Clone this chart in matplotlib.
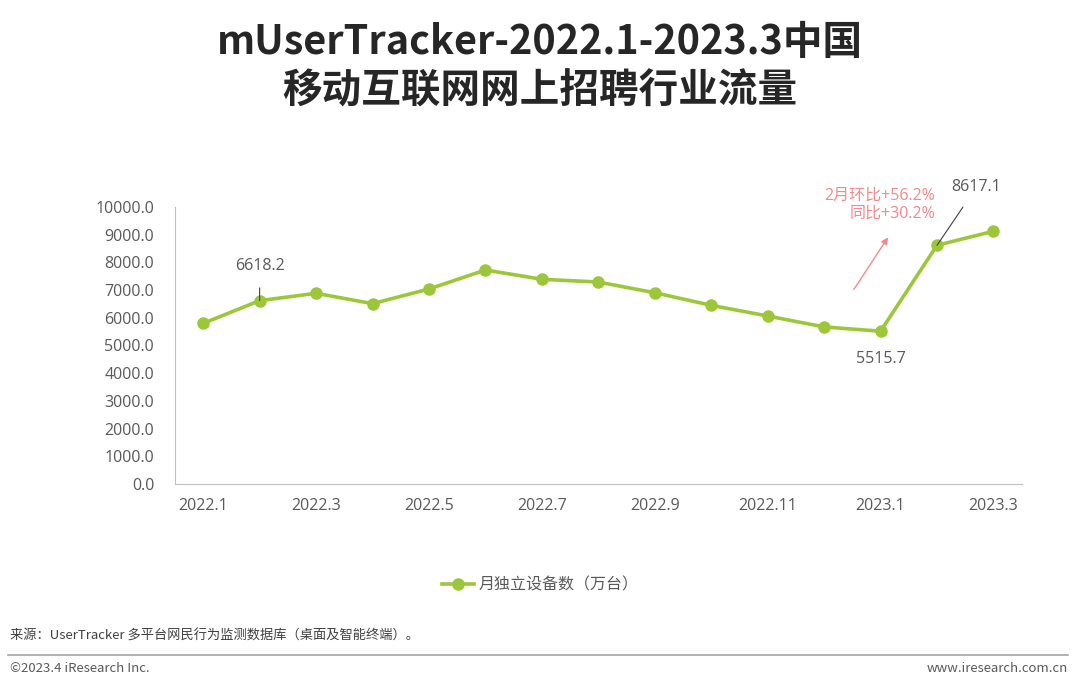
import matplotlib.pyplot as plt
import numpy as np

plt.rcParams['font.family'] = ['Open Sans', 'Noto Sans CJK SC', 'DejaVu Sans']

# data (万台)
months = ['2022.1', '2022.2', '2022.3', '2022.4', '2022.5', '2022.6', '2022.7', '2022.8',
          '2022.9', '2022.10', '2022.11', '2022.12', '2023.1', '2023.2', '2023.3']
devices = [5800, 6618.2, 6885, 6510, 7040, 7725, 7390, 7290,
           6905, 6450, 6065, 5670, 5515.7, 8617.1, 9125]
yticks = np.arange(0, 10001, 1000)

green = '#9DC73A'
grey = '#595959'
pink = '#F08A8F'
cjk = ['Noto Sans CJK SC', 'DejaVu Sans']

fig = plt.figure(figsize=(10.8, 6.9), dpi=100)
ax = fig.add_axes([0.162, 0.2986, 0.784, 0.4014])

x = np.arange(len(months))
ax.plot(x, devices, color=green, lw=2.6, marker='o', ms=8, label='月独立设备数（万台）')

ax.set_xlim(-0.5, len(months) - 0.5)
ax.set_ylim(0, 10000)
ax.set_yticks(yticks)
ax.set_yticklabels(['%.1f' % v for v in yticks], fontsize=11.5, color=grey)
ax.set_xticks(x[::2])
ax.set_xticklabels(months[::2], fontsize=11.5, color=grey)
ax.tick_params(axis='y', length=0, pad=15)
ax.tick_params(axis='x', length=0, pad=10)
for s in ['top', 'right']:
    ax.spines[s].set_visible(False)
for s in ['left', 'bottom']:
    ax.spines[s].set_color('#BFBFBF')

# value labels
ax.annotate('%.1f' % devices[1], xy=(1, devices[1]), xytext=(1, devices[1] + 1250),
            ha='center', va='center', fontsize=11.5, color=grey,
            arrowprops=dict(arrowstyle='-', color='#404040', lw=0.8, shrinkA=8, shrinkB=0))
ax.text(12, devices[12] - 1000, '%.1f' % devices[12], ha='center', va='center',
        fontsize=11.5, color=grey)
ax.annotate('%.1f' % devices[13], xy=(13, devices[13]), xytext=(13.7, devices[13] + 2100),
            ha='center', va='center', fontsize=11.5, color=grey,
            arrowprops=dict(arrowstyle='-', color='#404040', lw=0.8, shrinkA=8, shrinkB=0))

# growth note
ax.annotate('', xy=(12.16, 8990), xytext=(11.5, 6940),
            arrowprops=dict(arrowstyle='-|>', color=pink, lw=1, mutation_scale=10))
ax.text(12.97, 10070, '2月环比+56.2%\n同比+30.2%', ha='right', va='center',
        fontsize=11.5, color=pink, linespacing=1.15)

# title
fig.text(0.5, 0.939, 'mUserTracker-2022.1-2023.3中国', ha='center', va='center',
         fontsize=28.5, fontweight='bold', color='#262626', family=cjk)
fig.text(0.5, 0.868, '移动互联网网上招聘行业流量', ha='center', va='center',
         fontsize=28.5, fontweight='bold', color='#262626', family=cjk)

# legend
fig.legend(loc='center', bbox_to_anchor=(0.5, 0.152), frameon=False,
           prop={'family': cjk, 'size': 11.5},
           handlelength=2, handletextpad=0.3, labelcolor=grey)

# footer
fig.text(0.009, 0.078, '来源：UserTracker 多平台网民行为监测数据库（桌面及智能终端）。',
         ha='left', va='center', fontsize=9.5, color='#404040', family=cjk)
fig.add_artist(plt.Line2D([0.007, 0.989], [0.051, 0.051], color='#A6A6A6', lw=1.2,
                          transform=fig.transFigure))
fig.text(0.009, 0.031, '©2023.4 iResearch Inc.', ha='left', va='center',
         fontsize=9.5, color='#595959', family=cjk)
fig.text(0.989, 0.031, 'www.iresearch.com.cn', ha='right', va='center',
         fontsize=9.5, color='#595959', family=cjk)

fig.savefig('out.png', dpi=100)
